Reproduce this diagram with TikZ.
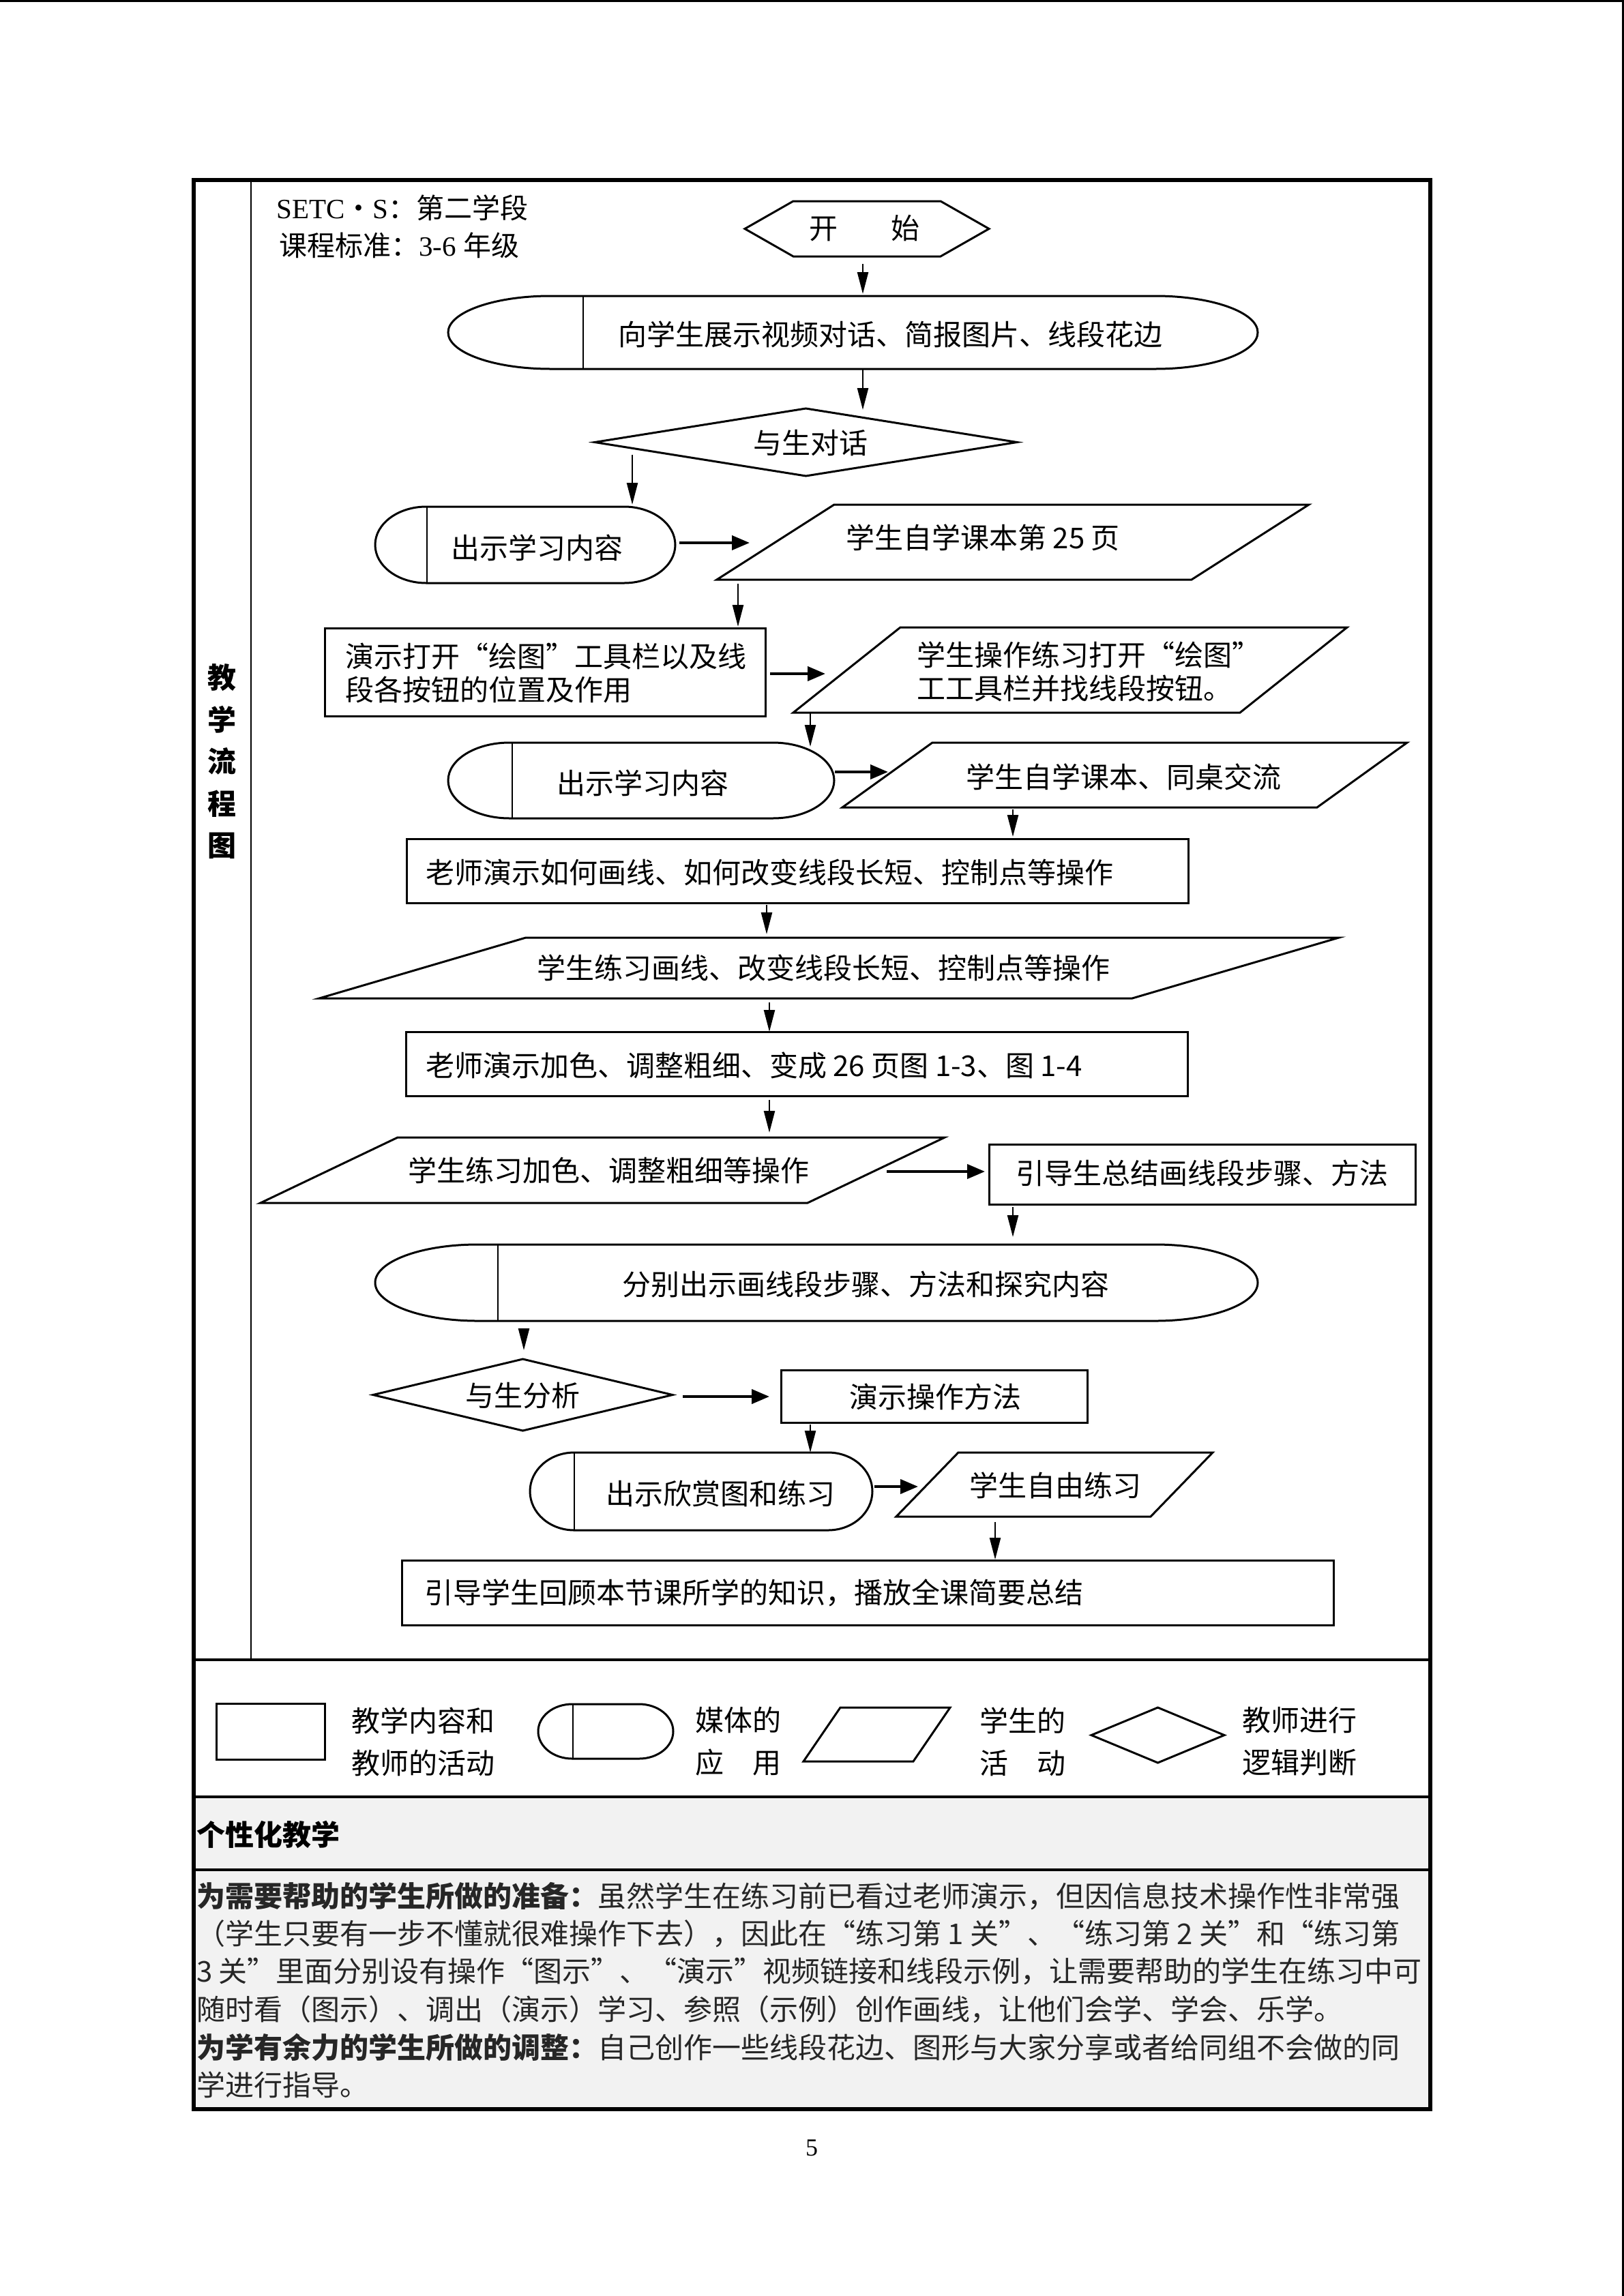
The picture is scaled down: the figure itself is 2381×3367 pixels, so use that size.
\documentclass[tikz,border=0pt]{standalone}
\usepackage{fontspec}
\setmainfont{Liberation Serif}
\newfontfamily\cjk{Noto Sans CJK SC}
\newfontfamily\lat{Liberation Serif}
\usetikzlibrary{arrows.meta,calc}
\definecolor{graybg}{HTML}{F2F2F2}
\tikzset{
  box/.style={draw=none, rectangle, inner sep=0pt, outer sep=0pt},
  rbox/.style={draw, line width=3pt, rectangle, inner sep=0pt, outer sep=0pt},
  shp/.style={line width=3pt, line join=miter},
  shpthin/.style={line width=2.2pt},
  arr/.style={line width=2.4pt, -{Triangle[length=32pt,width=16pt]}},
  harr/.style={line width=4pt, -{Triangle[length=26pt,width=21pt]}},
  txt/.style={font=\cjk\fontsize{42}{49}\selectfont, inner sep=0pt, align=left},
  btxt/.style={font=\cjk\bfseries\fontsize{42}{49}\selectfont, inner sep=0pt, align=left},
  ltxt/.style={font=\cjk\fontsize{42}{62}\selectfont, inner sep=0pt, align=left, anchor=west},
}
\newcommand{\mediashape}[4]{%
  \draw[shp] ([xshift=#2pt]#1.north west) -- ([xshift=-#2pt]#1.north east)
    arc[start angle=90,end angle=-90,x radius=#2pt,y radius=#3pt]
    -- ([xshift=#2pt]#1.south west)
    arc[start angle=270,end angle=90,x radius=#2pt,y radius=#3pt] -- cycle;
  \draw[shpthin] (#4,0 |- #1.north) -- (#4,0 |- #1.south);}
\newcommand{\parashape}[2]{%
  \draw[shp] (#1.south west) -- ([xshift=#2pt]#1.north west) -- (#1.north east)
    -- ([xshift=-#2pt]#1.south east) -- cycle;}
\newcommand{\diashape}[1]{%
  \draw[shp] (#1.west) -- (#1.north) -- (#1.east) -- (#1.south) -- cycle;}
\newcommand{\varrow}[5]{%
  \draw[arr, shorten <=#4pt, shorten >=#5pt] (#1,0 |- #2) -- (#1,0 |- #3);}
\newcommand{\harrow}[5]{%
  \draw[harr, shorten <=#4pt, shorten >=#5pt] (#2 |- 0,#1) -- (#3 |- 0,#1);}

\begin{document}
\begin{tikzpicture}[x=1pt,y=-1pt]
\useasboundingbox (0,0) rectangle (2381,3367);
\fill[white] (0,0) rectangle (2381,3367);
% page edges
\draw[line width=3.5pt] (0,1.75) -- (2381,1.75);
\draw[line width=3.5pt] (2379.25,0) -- (2379.25,3367);
% table
\fill[graybg] (284,2635) rectangle (2097,3093);
\draw[line width=2.5pt] (368,264) -- (368,2434);
\draw[line width=3.5pt] (284,2434) -- (2097,2434);
\draw[line width=3.5pt] (284,2635) -- (2097,2635);
\draw[line width=4pt] (284,2742) -- (2097,2742);
\draw[line width=6pt] (284,264) rectangle (2097,3093);

% left column title
\node[btxt, align=center, font=\cjk\bfseries\fontsize{42}{61.5}\selectfont] (coltitle) at (325,1117) {教\\学\\流\\程\\图};

% header
\node[inner sep=0pt, anchor=west, font=\fontsize{41}{49}\selectfont] (hdr1) at (405,305)
  {{\lat SETC}{\cjk ・}{\lat S}{\cjk ：第二学段}};
\node[inner sep=0pt, anchor=west, font=\fontsize{41}{49}\selectfont] (hdr2) at (409,360)
  {{\cjk 课程标准：}{\lat 3-6 }{\cjk 年级}};

% ---------- shapes ----------
\node[box, minimum width=358pt, minimum height=81pt] (start) at (1271,335.5) {};
\draw[shp] (start.west) -- ([xshift=71pt]start.north west) -- ([xshift=-71pt]start.north east)
  -- (start.east) -- ([xshift=-71pt]start.south east) -- ([xshift=71pt]start.south west) -- cycle;
\node[txt] (tstart) at (1267,335) {开\hspace{78pt}始};

\node[box, minimum width=1187pt, minimum height=107pt] (m1) at (1250.5,487.5) {};
\mediashape{m1}{150}{53.5}{855}
\node[txt] (tm1) at (1305,490) {向学生展示视频对话、简报图片、线段花边};

\node[box, minimum width=619pt, minimum height=99pt] (d1) at (1181.5,648.5) {};
\diashape{d1}
\node[txt] (td1) at (1188,650) {与生对话};

\node[box, minimum width=440pt, minimum height=112pt] (m2) at (770,799) {};
\mediashape{m2}{75}{56}{626}
\node[txt] (tm2) at (787,803) {出示学习内容};

\node[box, minimum width=868pt, minimum height=110pt] (p1) at (1485,795) {};
\parashape{p1}{172}
\node[txt] (tp1) at (1441,788) {学生自学课本第 25 页};

\node[rbox, minimum width=646pt, minimum height=129pt] (r1) at (799,985.5) {};
\node[txt, anchor=west] (tr1) at (506,987) {演示打开“绘图”工具栏以及线\\段各按钮的位置及作用};

\node[box, minimum width=812pt, minimum height=125pt] (p2) at (1569,982.5) {};
\parashape{p2}{157}
\node[txt, anchor=west] (tp2) at (1344,985) {学生操作练习打开“绘图”\\工工具栏并找线段按钮。};

\node[box, minimum width=566pt, minimum height=111pt] (m3) at (940,1144.5) {};
\mediashape{m3}{90}{55.5}{751}
\node[txt] (tm3) at (942,1148) {出示学习内容};

\node[box, minimum width=828pt, minimum height=95pt] (p3) at (1649,1136.5) {};
\parashape{p3}{132}
\node[txt] (tp3) at (1647,1139) {学生自学课本、同桌交流};

\node[rbox, minimum width=1146pt, minimum height=94pt] (r2) at (1169,1277) {};
\node[txt, anchor=west] (tr2) at (624,1279) {老师演示如何画线、如何改变线段长短、控制点等操作};

\node[box, minimum width=1495pt, minimum height=89pt] (p4) at (1215.5,1419.5) {};
\parashape{p4}{303}
\node[txt] (tp4) at (1207,1419) {学生练习画线、改变线段长短、控制点等操作};

\node[rbox, minimum width=1146pt, minimum height=94pt] (r3) at (1168,1560) {};
\node[txt, anchor=west] (tr3) at (624,1562) {老师演示加色、调整粗细、变成 26 页图 1-3、图 1-4};

\node[box, minimum width=1003pt, minimum height=96pt] (p5) at (883.5,1716) {};
\parashape{p5}{201}
\node[txt] (tp5) at (892,1716) {学生练习加色、调整粗细等操作};

\node[rbox, minimum width=625pt, minimum height=88pt] (r4) at (1762.5,1722) {};
\node[txt] (tr4) at (1762,1720) {引导生总结画线段步骤、方法};

\node[box, minimum width=1294pt, minimum height=112pt] (m4) at (1197,1881) {};
\mediashape{m4}{150}{56}{730}
\node[txt] (tm4) at (1269,1883) {分别出示画线段步骤、方法和探究内容};

\node[box, minimum width=439pt, minimum height=105pt] (d2) at (766.5,2045.5) {};
\diashape{d2}
\node[txt] (td2) at (766,2047) {与生分析};

\node[rbox, minimum width=449pt, minimum height=77pt] (r5) at (1369.5,2047.5) {};
\node[txt] (tr5) at (1371,2048) {演示操作方法};

\node[box, minimum width=502pt, minimum height=114pt] (m5) at (1028,2187) {};
\mediashape{m5}{65}{57}{842}
\node[txt] (tm5) at (1056,2190) {出示欣赏图和练习};

\node[box, minimum width=464pt, minimum height=94pt] (p6) at (1546,2177) {};
\parashape{p6}{91}
\node[txt] (tp6) at (1547,2178) {学生自由练习};

\node[rbox, minimum width=1366pt, minimum height=95pt] (r6) at (1272,2335.5) {};
\node[txt, anchor=west] (tr6) at (622,2336) {引导学生回顾本节课所学的知识，播放全课简要总结};

% ---------- connectors ----------
\varrow{1265}{start.south}{m1.north}{11}{3}
\varrow{1265}{m1.south}{d1.north}{1}{-2}
\varrow{927}{d1.center}{m2.north}{18}{3}
\harrow{796}{m2.east}{p1.west}{6}{-48}
\varrow{1082}{p1.south}{r1.north}{6}{2}
\harrow{988}{r1.east}{p2.west}{7}{-47}
\varrow{1188}{p2.south}{m3.north}{1}{-6}
\harrow{1132}{m3.east}{p3.west}{1}{-67}
\varrow{1485}{p3.south}{r2.north}{3}{3}
\varrow{1124}{r2.south}{p4.north}{3}{5}
\varrow{1128}{p4.south}{r3.north}{6}{0}
\varrow{1128}{r3.south}{p5.north}{6}{7}
\harrow{1718}{p5.east}{r4.west}{-85}{6}
\varrow{1485}{r4.south}{m4.north}{4}{11}
\varrow{768}{m4.south}{d2.north}{11}{13}
\harrow{2048}{d2.east}{r5.west}{15}{17}
\varrow{1188}{r5.south}{m5.north}{3}{0}
\harrow{2180}{m5.east}{p6.west}{3}{-32}
\varrow{1459}{p6.south}{r6.north}{8}{1}

% ---------- legend ----------
\node[rbox, minimum width=159pt, minimum height=82pt] (lrect) at (396.5,2539) {};
\node[ltxt] (lt1) at (515,2554) {教学内容和\\教师的活动};
\node[box, minimum width=198pt, minimum height=80pt] (lmedia) at (888,2539) {};
\mediashape{lmedia}{50}{40}{840}
\node[ltxt] (lt2) at (1019,2554) {媒体的\\应　用};
\node[box, minimum width=215pt, minimum height=79pt] (lpara) at (1285.5,2543.5) {};
\parashape{lpara}{54}
\node[ltxt] (lt3) at (1436,2554) {学生的\\活　动};
\node[box, minimum width=195pt, minimum height=81pt] (ldia) at (1697.5,2544.5) {};
\diashape{ldia}
\node[ltxt] (lt4) at (1821,2554) {教师进行\\逻辑判断};

% ---------- personalised teaching ----------
\node[btxt, anchor=west] (ptitle) at (288,2690) {个性化教学};
\begin{scope}[every node/.style={txt, anchor=west, text=black!85}]
\node (pl1) at (288,2781) {{\bfseries 为需要帮助的学生所做的准备：}虽然学生在练习前已看过老师演示，但因信息技术操作性非常强};
\node (pl2) at (288,2836) {（学生只要有一步不懂就很难操作下去），因此在“练习第 1 关”、“练习第 2 关”和“练习第};
\node (pl3) at (288,2891) {3 关”里面分别设有操作“图示”、“演示”视频链接和线段示例，让需要帮助的学生在练习中可};
\node (pl4) at (288,2947) {随时看（图示）、调出（演示）学习、参照（示例）创作画线，让他们会学、学会、乐学。};
\node (pl5) at (288,3002) {{\bfseries 为学有余力的学生所做的调整：}自己创作一些线段花边、图形与大家分享或者给同组不会做的同};
\node (pl6) at (288,3057) {学进行指导。};
\end{scope}

% page number
\node[inner sep=0pt, font=\lat\fontsize{36}{40}\selectfont] (pagenum) at (1190,3150) {5};
\end{tikzpicture}
\end{document}
